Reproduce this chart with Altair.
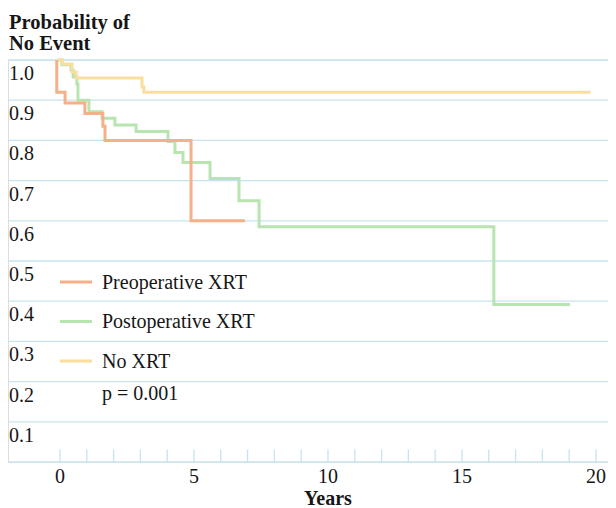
import altair as alt
import pandas as pd

# ---------------- data ----------------
series_names = ["Preoperative XRT", "Postoperative XRT", "No XRT"]
series_colors = ["#F6B088", "#B8E4B0", "#F9DE9E"]

pre_years = [-0.12, -0.12, 0.19, 0.93, 1.60, 1.68, 4.89, 6.90]
pre_surv = [1.00, 0.920, 0.893, 0.867, 0.835, 0.800, 0.600, 0.600]

post_years = [-0.10, 0.07, 0.41, 0.49, 0.63, 0.67, 1.08, 1.57, 2.05, 2.84,
              4.03, 4.29, 4.59, 5.60, 6.68, 7.43, 16.19, 19.03]
post_surv = [1.00, 0.988, 0.975, 0.958, 0.940, 0.900, 0.871, 0.855, 0.838, 0.822,
             0.797, 0.770, 0.745, 0.705, 0.650, 0.585, 0.392, 0.392]

noxrt_years = [-0.10, 0.10, 0.45, 0.60, 3.06, 3.13, 19.80]
noxrt_surv = [1.00, 0.990, 0.970, 0.955, 0.933, 0.920, 0.920]

grid_values = [0.0, 0.1, 0.2, 0.3, 0.4, 0.5, 0.6, 0.7, 0.8, 0.9, 1.0]
y_tick_values = [0.1, 0.2, 0.3, 0.4, 0.5, 0.6, 0.7, 0.8, 0.9, 1.0]
y_tick_labels = ["0.1", "0.2", "0.3", "0.4", "0.5", "0.6", "0.7", "0.8", "0.9", "1.0"]
x_label_values = [0, 5, 10, 15, 20]
x_label_texts = ["0", "5", "10", "15", "20"]
x_minor_ticks = list(range(0, 21))
title_lines = ["Probability of", "No Event"]
x_title = "Years"
p_value_text = "p = 0.001"

# ---------------- styling / layout ----------------
FONT = "Liberation Serif"
TEXT = "#161616"
GRID = "#C6E4EE"
W, H = 600, 402
xs = alt.Scale(domain=[-1.94, 20.45], nice=False, zero=False)
ys = alt.Scale(domain=[0, 1], nice=False, zero=False)
cscale = alt.Scale(domain=series_names, range=series_colors)

frames = []
for name, yrs, sv in [(series_names[0], pre_years, pre_surv),
                      (series_names[1], post_years, post_surv),
                      (series_names[2], noxrt_years, noxrt_surv)]:
    frames.append(pd.DataFrame({"series": name, "t": yrs, "s": sv}))
curves = pd.concat(frames, ignore_index=True)

grid = alt.Chart(pd.DataFrame({"s": grid_values})).mark_rule(
    color=GRID, strokeWidth=1.3
).encode(
    y=alt.Y("s:Q", scale=ys, axis=None),
    x=alt.value(0), x2=alt.value(W),
)

minor = alt.Chart(pd.DataFrame({"t": x_minor_ticks})).mark_rule(
    color=GRID, strokeWidth=1.3
).encode(
    x=alt.X("t:Q", scale=xs, axis=None),
    y=alt.value(H - 12.5), y2=alt.value(H),
)

ylab = alt.Chart(pd.DataFrame({"s": y_tick_values, "label": y_tick_labels})).mark_text(
    align="left", baseline="alphabetic", dy=20, font=FONT, fontSize=20, color=TEXT
).encode(
    y=alt.Y("s:Q", scale=ys, axis=None),
    x=alt.value(1),
    text="label:N",
)

xlab = alt.Chart(pd.DataFrame({"t": x_label_values, "label": x_label_texts})).mark_text(
    align="center", baseline="alphabetic", font=FONT, fontSize=20, color=TEXT
).encode(
    x=alt.X("t:Q", scale=xs, axis=None),
    y=alt.value(H + 21),
    text="label:N",
)

xtitle = alt.Chart(pd.DataFrame({"t": [10], "label": [x_title]})).mark_text(
    align="center", baseline="alphabetic", font=FONT, fontSize=20,
    fontWeight="bold", color=TEXT
).encode(
    x=alt.X("t:Q", scale=xs, axis=None),
    y=alt.value(H + 42.5),
    text="label:N",
)

title = alt.Chart(pd.DataFrame({"label": title_lines, "ypx": [-31, -10]})).mark_text(
    align="left", baseline="alphabetic", font=FONT, fontSize=20.5,
    fontWeight="bold", color=TEXT
).encode(
    x=alt.value(1),
    y=alt.Y("ypx:Q", scale=None),
    text="label:N",
)

def curve_layer(name):
    return alt.Chart(curves).transform_filter(
        alt.datum.series == name
    ).mark_line(interpolate="step-after", strokeWidth=3, strokeCap="butt").encode(
        x=alt.X("t:Q", scale=xs, axis=None),
        y=alt.Y("s:Q", scale=ys, axis=None),
        color=alt.Color("series:N", scale=cscale, legend=None),
    )

# legend drawn manually
leg_df = pd.DataFrame({
    "series": series_names,
    "ypx": [222, 261.5, 301],
})
leg_lines = alt.Chart(leg_df).mark_rule(strokeWidth=3).encode(
    x=alt.value(52), x2=alt.value(84),
    y=alt.Y("ypx:Q", scale=None),
    color=alt.Color("series:N", scale=cscale, legend=None),
)
leg_text = alt.Chart(leg_df).mark_text(
    align="left", baseline="alphabetic", dy=6.5, font=FONT, fontSize=20, color=TEXT
).encode(
    x=alt.value(94),
    y=alt.Y("ypx:Q", scale=None),
    text="series:N",
)
p_text = alt.Chart(pd.DataFrame({"label": [p_value_text], "ypx": [340]})).mark_text(
    align="left", baseline="alphabetic", font=FONT, fontSize=20, color=TEXT
).encode(
    x=alt.value(94),
    y=alt.Y("ypx:Q", scale=None),
    text="label:N",
)

chart = alt.layer(
    grid, minor, ylab, xlab, xtitle, title,
    curve_layer(series_names[1]), curve_layer(series_names[2]), curve_layer(series_names[0]),
    leg_lines, leg_text, p_text,
).properties(
    width=W, height=H,
    autosize="none",
    padding={"left": 0, "top": 52, "right": 0, "bottom": 46},
).configure_view(stroke=None).configure(background="white")

chart.save("out.html", embed_options={"renderer": "svg", "actions": False})
